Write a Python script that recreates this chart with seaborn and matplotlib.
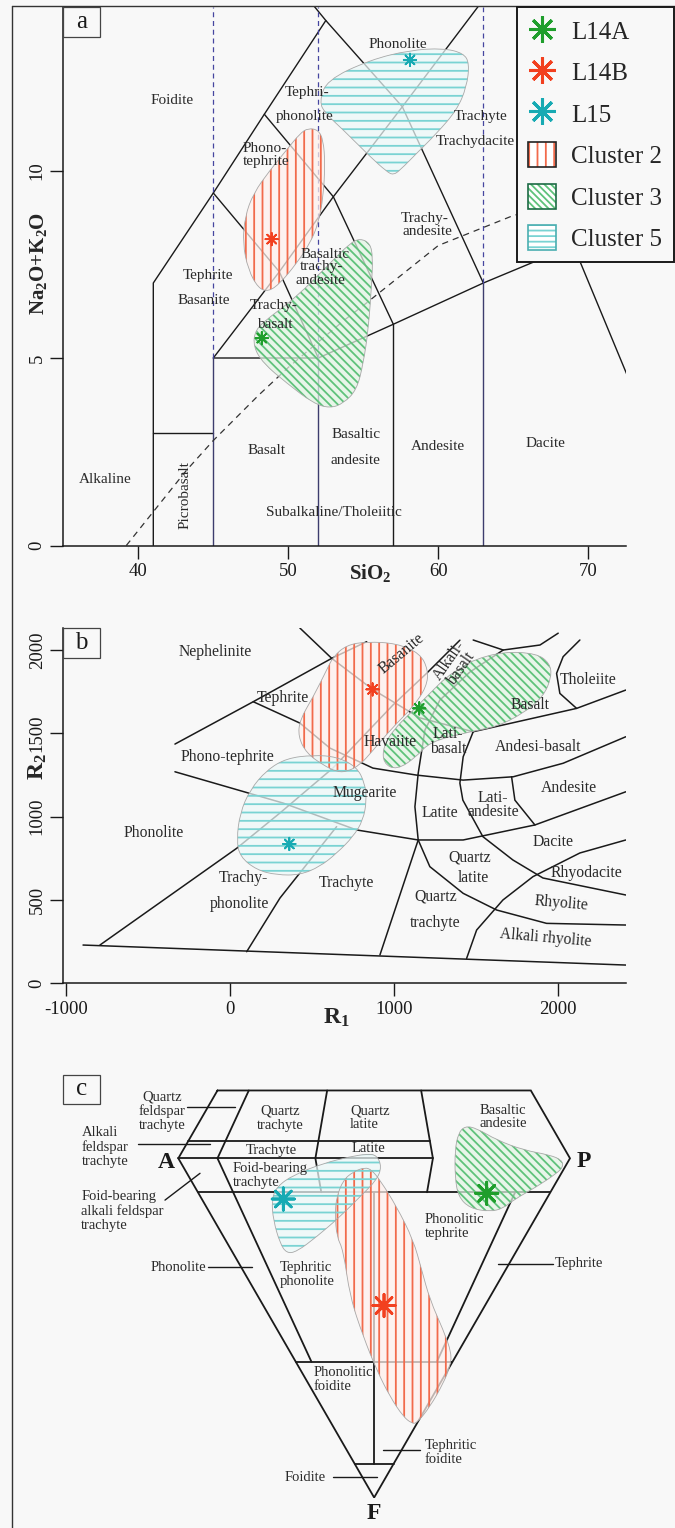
import numpy as np
import pandas as pd
import matplotlib
matplotlib.use("Agg")
import matplotlib.pyplot as plt
import matplotlib.patches as mpatches
from matplotlib.path import Path
from matplotlib.lines import Line2D
from matplotlib.legend_handler import HandlerTuple
import seaborn as sns

sns.set_theme(style="ticks")
plt.rcParams['font.family'] = ['Liberation Serif', 'DejaVu Serif']
plt.rcParams['mathtext.fontset'] = 'custom'
plt.rcParams['mathtext.rm'] = 'Liberation Serif'
plt.rcParams['mathtext.bf'] = 'Liberation Serif:bold'
plt.rcParams['mathtext.it'] = 'Liberation Serif:italic'
plt.rcParams['axes.unicode_minus'] = False
plt.rcParams['hatch.linewidth'] = 1.3

BG = '#f8f8f8'
INK = '#1a1a1a'

# ------------------------------------------------------------------ samples
samples = ["L14A", "L14B", "L15"]
sample_colors = {"L14A": "#1f9e2c", "L14B": "#f2401f", "L15": "#17aab3"}

# ------------------------------------------------------------------ panel a : TAS
tas_sio2 = [48.23, 48.89, 58.11]
tas_alkali = [5.53, 8.17, 12.95]

tas_cluster2 = [(51.33, 11.13), (52.0, 11.08), (52.33, 10.81), (52.45, 10.19), (52.33, 9.30),
                (52.0, 8.59), (51.45, 8.06), (50.56, 7.53), (49.45, 6.99), (48.67, 6.77),
                (48.0, 6.86), (47.33, 7.35), (46.96, 8.06), (47.11, 8.77), (47.67, 9.39),
                (48.78, 10.01), (49.89, 10.55), (50.78, 10.99)]
tas_cluster3 = [(54.78, 8.19), (55.45, 8.06), (55.63, 7.70), (55.56, 6.99), (55.33, 5.75),
                (55.0, 4.86), (54.56, 4.15), (53.67, 3.79), (52.78, 3.66), (51.67, 3.79),
                (49.89, 4.33), (48.33, 4.86), (47.67, 5.30), (47.78, 5.75), (48.78, 6.10),
                (50.56, 6.63), (52.78, 7.53), (54.11, 8.06)]
tas_cluster5 = [(52.07, 11.83), (52.56, 12.41), (55.45, 12.95), (58.11, 13.21), (60.33, 13.26),
                (61.67, 13.13), (62.07, 12.86), (61.89, 12.23), (61.23, 11.61), (59.89, 10.99),
                (58.56, 10.46), (57.45, 10.01), (57.0, 9.88), (56.56, 9.97), (55.45, 10.37),
                (53.67, 11.08), (52.45, 11.53)]

tas_boundaries = [
    [(41, 0), (41, 7), (45, 9.4), (48.4, 11.5), (52.5, 14), (48.4, 16)],
    [(41, 3), (45, 3)],
    [(57, 0), (57, 5.9)],
    [(45, 5), (52, 5), (57, 5.9), (63, 7), (69, 8), (77.3, 0)],
    [(45, 5), (49.4, 7.3), (53, 9.3), (57.6, 11.7), (63.5, 14.82)],
    [(52, 5), (49.4, 7.3), (45, 9.4)],
    [(57, 5.9), (53, 9.3), (48.4, 11.5)],
    [(63, 7), (57.6, 11.7), (52.5, 14)],
    [(69, 8), (69, 13)],
]
tas_guides_x = [45, 52, 63]          # SiO2 guides
tas_guides_base = [5, 5, 7]          # where the guide turns from solid to dashed
alk_divide = [(39.2, 0), (40, 0.4), (43.2, 2.0), (45, 2.8), (48, 4.0), (50, 4.75),
              (53.7, 6.0), (55, 6.4), (60, 8.0), (65, 8.8), (77.4, 10)]

tas_labels = [
    ("Foidite", 42.25, 11.88, 0), ("Tephri-", 51.25, 12.07, 0), ("phonolite", 51.11, 11.43, 0),
    ("Phono-", 48.45, 10.60, 0), ("tephrite", 48.5, 10.24, 0), ("Phonolite", 57.31, 13.37, 0),
    ("Trachyte", 62.84, 11.45, 0), ("Trachydacite", 62.44, 10.76, 0),
    ("Trachy-", 59.1, 8.73, 0), ("andesite", 59.25, 8.37, 0),
    ("Basaltic", 52.45, 7.77, 0), ("trachy-", 52.23, 7.44, 0), ("andesite", 52.11, 7.08, 0),
    ("Tephrite", 44.67, 7.21, 0), ("Basanite", 44.39, 6.53, 0),
    ("Trachy-", 49.0, 6.41, 0), ("basalt", 49.11, 5.88, 0), ("Basalt", 48.58, 2.52, 0),
    ("Basaltic", 54.51, 2.97, 0), ("andesite", 54.45, 2.28, 0), ("Andesite", 59.98, 2.63, 0),
    ("Dacite", 67.11, 2.71, 0), ("Alkaline", 37.78, 1.77, 0), ("Picrobasalt", 43.11, 1.35, 90),
    ("Subalkaline/Tholeiitic", 53.05, 0.87, 0),
]

# ------------------------------------------------------------------ panel b : R1-R2
r1_values = [1153, 869, 362]
r2_values = [1649, 1763, 836]

rr_cluster2 = [(629, 1959), (711, 2029), (833, 2049), (1016, 2039), (1158, 1979), (1208, 1879),
               (1198, 1779), (1117, 1659), (995, 1539), (873, 1399), (792, 1309), (711, 1269),
               (650, 1269), (568, 1309), (467, 1380), (416, 1479), (426, 1581), (508, 1719),
               (589, 1879)]
rr_cluster3 = [(1482, 1939), (1665, 1989), (1868, 1979), (1949, 1919), (1960, 1839), (1909, 1719),
               (1787, 1619), (1625, 1539), (1462, 1509), (1218, 1449), (1137, 1359), (1016, 1279),
               (934, 1320), (934, 1419), (995, 1519), (1097, 1619), (1218, 1739), (1320, 1839),
               (1421, 1899)]
rr_cluster5 = [(41, 860), (61, 1020), (122, 1160), (224, 1279), (345, 1350), (508, 1369),
               (650, 1359), (772, 1299), (822, 1200), (833, 1100), (812, 980), (751, 880),
               (650, 780), (548, 700), (426, 650), (285, 650), (163, 680), (61, 760)]

rr_boundaries = [
    [(-895, 230), (2412, 110)],
    [(-792, 230), (41, 810), (305, 1022), (627, 1291), (993, 1669), (1198, 1859), (1401, 2058)],
    [(-335, 1435), (142, 1689), (620, 1949), (833, 2049)],
    [(426, 2131), (620, 1949), (869, 1763), (1157, 1592), (1482, 1509)],
    [(142, 1689), (426, 1561), (609, 1411), (871, 1291), (1137, 1249), (1421, 1219),
     (1726, 1239), (2030, 1320), (2412, 1479)],
    [(-335, 1269), (325, 1081), (772, 920), (1147, 860), (1421, 860), (1858, 950), (2412, 1149)],
    [(1482, 1509), (2112, 1649), (2412, 1759)],
    [(1665, 1999), (1462, 1867), (1279, 1699), (1188, 1519), (1147, 1260), (1127, 1059), (1147, 860)],
    [(1147, 860), (914, 171)],
    [(1147, 860), (1218, 700), (1421, 540), (1625, 440), (1929, 360), (2412, 350)],
    [(2132, 2059), (2030, 1959), (1990, 1859), (2010, 1739), (2112, 1649)],
    [(1482, 2059), (1665, 1999), (1889, 2029), (2000, 2100)],
    [(1482, 1509), (1421, 1359), (1401, 1201), (1419, 1099), (1541, 880), (1724, 740),
     (1907, 632), (2412, 530)],
    [(1716, 1239), (1736, 1099), (1858, 950)],
    [(1442, 150), (1503, 320), (1663, 500), (1846, 640), (2132, 782), (2412, 860)],
    [(102, 190), (305, 512), (650, 940)],
]

rr_labels = [
    ("Nephelinite", -91, 1987, 0), ("Tephrite", 323, 1711, 0), ("Phono-tephrite", -18, 1358, 0),
    ("Phonolite", -467, 903, 0), ("Trachy-", 81, 630, 0), ("phonolite", 61, 476, 0),
    ("Trachyte", 711, 600, 0), ("Mugearite", 822, 1140, 0), ("Havaiite", 975, 1449, 0),
    ("Basanite", 1046, 1979, 40), ("Alkali-\nbasalt", 1371, 1909, 55), ("Basalt", 1828, 1669, 0),
    ("Tholeiite", 2183, 1819, 0), ("Lati-\nbasalt", 1330, 1450, 0), ("Andesi-basalt", 1878, 1419, 0),
    ("Andesite", 2067, 1173, 0), ("Lati-\nandesite", 1602, 1070, 0), ("Latite", 1279, 1020, 0),
    ("Dacite", 1966, 850, 0), ("Quartz", 1462, 754, 0), ("latite", 1486, 630, 0),
    ("Rhyodacite", 2173, 660, 0), ("Rhyolite", 2021, 480, -5), ("Quartz", 1255, 520, 0),
    ("trachyte", 1249, 364, 0), ("Alkali rhyolite", 1925, 270, -5),
]

# ------------------------------------------------------------------ panel c : QAPF (plane coords, A-P = 100)
qapf_u = [78.73, 52.52, 26.81]
qapf_v = [-8.94, -37.58, -10.39]

qapf_cluster2 = [(47.66, -2.30), (49.37, -2.99), (51.49, -5.54), (55.76, -12.36), (60.0, -20.86),
                 (62.14, -28.52), (64.26, -36.18), (67.65, -43.83), (69.80, -49.78), (69.36, -53.20),
                 (67.65, -57.44), (64.26, -63.42), (60.86, -67.65), (59.59, -67.65), (57.44, -65.97),
                 (54.05, -60.86), (50.65, -54.05), (47.23, -45.55), (43.83, -35.33), (42.12, -23.41),
                 (40.44, -20.02), (40.01, -14.04), (40.44, -9.80), (42.12, -5.54), (44.68, -3.42)]
qapf_cluster3 = [(73.19, 8.25), (76.18, 7.66), (81.29, 4.67), (88.08, 2.12), (94.89, 0.84),
                 (97.88, -0.43), (98.29, -2.14), (96.60, -3.83), (91.50, -7.25), (85.52, -10.65),
                 (82.97, -12.76), (79.58, -13.63), (74.47, -12.76), (71.48, -9.80), (70.64, -4.70),
                 (70.64, 2.12), (71.48, 6.38)]
qapf_cluster5 = [(50.65, 0.84), (51.93, -2.14), (50.65, -5.54), (46.39, -9.80), (41.28, -14.91),
                 (35.33, -20.02), (30.23, -23.84), (27.67, -24.25), (25.96, -21.70), (24.25, -15.75),
                 (23.84, -10.65), (25.12, -7.25), (29.36, -4.26), (37.02, -1.28), (43.83, 0.41),
                 (48.10, 1.10)]

q_top = 0.20                    # upper triangle truncated at 20 % Q
q_low = 0.05
f_levels = [0.10, 0.60, 0.90]
p_split_upper = [0.10, 0.35, 0.65]

qapf_labels = [
    ("Quartz\nfeldspar\ntrachyte", -4.16, 12.05, 'center'), ("Alkali\nfeldspar\ntrachyte", -24.66, 2.86, 'left'),
    ("Foid-bearing\nalkali feldspar\ntrachyte", -24.8, -13.4, 'left'), ("Phonolite", 7.25, -27.83, 'right'),
    ("Quartz\ntrachyte", 25.96, 10.24, 'center'), ("Trachyte", 23.85, 1.94, 'center'),
    ("Foid-bearing\ntrachyte", 13.96, -4.44, 'left'), ("Quartz\nlatite", 43.83, 10.29, 'left'),
    ("Latite", 48.5, 2.55, 'center'), ("Basaltic\nandesite", 82.97, 10.54, 'center'),
    ("Phonolitic\ntephrite", 62.98, -17.36, 'left'), ("Tephrite", 96.17, -26.8, 'left'),
    ("Tephritic\nphonolite", 25.96, -29.67, 'left'), ("Phonolitic\nfoidite", 34.47, -56.4, 'left'),
    ("Tephritic\nfoidite", 62.98, -75.2, 'left'), ("Foidite", 37.7, -81.44, 'right'),
]
qapf_leaders = [
    [(2.14, 13.1), (14.48, 13.1)], [(-10.2, 3.57), (8.09, 3.57)], [(-3.4, -10.67), (5.54, -3.83)],
    [(7.66, -27.83), (18.74, -27.83)], [(81.7, -27.06), (95.74, -27.06)],
    [(52.34, -74.47), (61.71, -74.47)], [(39.42, -81.44), (50.65, -81.44)],
]
vertex_labels = [("A", -3.19, -0.95), ("P", 103.4, -0.87), ("F", 49.96, -90.6)]

# ------------------------------------------------------------------ styles
cluster_styles = {
    "Cluster 2": dict(fill='#fff1ec', hatch_color='#f26a4b', hatch='||', legend_hatch='||',
                      legend_edge='#222222'),
    "Cluster 3": dict(fill='#e2f4e4', hatch_color='#5fc27b', hatch='\\' * 4, legend_hatch='\\' * 5,
                      legend_edge='#1d6b45'),
    "Cluster 5": dict(fill='#ecf9f9', hatch_color='#79d3d3', hatch='--', legend_hatch='---',
                      legend_edge='#4aaeb0'),
}
STAR = (8, 2, 0)


def smooth_path(pts):
    p = np.asarray(pts, float)
    mids = (p + np.roll(p, -1, axis=0)) / 2
    verts = [mids[-1]]
    codes = [Path.MOVETO]
    for i in range(len(p)):
        verts += [p[i], mids[i]]
        codes += [Path.CURVE3, Path.CURVE3]
    verts.append(mids[-1])
    codes.append(Path.CLOSEPOLY)
    return Path(verts, codes)


def draw_field(ax, pts, name, z=3):
    st = cluster_styles[name]
    path = smooth_path(pts)
    ax.add_patch(mpatches.PathPatch(path, facecolor=st['fill'], edgecolor='none', alpha=0.72, zorder=z))
    ax.add_patch(mpatches.PathPatch(path, facecolor='none', edgecolor=st['hatch_color'],
                                    hatch=st['hatch'], linewidth=0, zorder=z + 0.1))
    ax.add_patch(mpatches.PathPatch(path, facecolor='none', edgecolor='#a8a8a8',
                                    linewidth=0.6, zorder=z + 0.2))


def draw_lines(ax, lines, **kw):
    for ln in lines:
        xy = np.asarray(ln, float)
        ax.plot(xy[:, 0], xy[:, 1], **kw)


def draw_samples(ax, xs, ys, size, lw):
    df = pd.DataFrame({"x": xs, "y": ys, "sample": samples})
    sns.scatterplot(data=df, x="x", y="y", hue="sample", palette=sample_colors, marker=STAR,
                    s=size, linewidth=lw, legend=False, ax=ax, zorder=8)
    ax.set_xlabel("")
    ax.set_ylabel("")


def panel_tag(ax, letter, h):
    ax.add_patch(mpatches.Rectangle((0, 1 - h), 0.0657, h, transform=ax.transAxes,
                                    facecolor='none', edgecolor='#444444', linewidth=0.9,
                                    clip_on=False, zorder=9))
    ax.text(0.0328, 1 - h / 2, letter, transform=ax.transAxes, ha='center', va='center',
            fontsize=18, color=INK, zorder=10)


def style_axes(ax):
    for s in ['top', 'right']:
        ax.spines[s].set_visible(False)
    for s in ['left', 'bottom']:
        ax.spines[s].set_linewidth(1.1)
        ax.spines[s].set_color(INK)
    ax.tick_params(direction='out', length=9.5, width=1.0, color=INK, labelsize=13.5,
                   labelcolor=INK, pad=3)
    ax.tick_params(axis='y', labelrotation=90)
    for lab in ax.get_yticklabels():
        lab.set_va('center')
    ax.set_facecolor('none')
    ax.grid(False)


W, H = 675, 1528
fig = plt.figure(figsize=(6.75, 15.28), dpi=100, facecolor=BG)


def axes_px(left, top, right, bottom):
    return fig.add_axes([left / W, 1 - bottom / H, (right - left) / W, (bottom - top) / H])


# ================================================================== panel a
ax = axes_px(63, 7, 626, 545.5)
ax.set_xlim(34.98, 72.51)
ax.set_ylim(0, 14.36)
ax.set_xticks([40, 50, 60, 70])
ax.set_yticks([0, 5, 10])
draw_lines(ax, tas_boundaries, color=INK, lw=1.0, zorder=2)
for gx, gb in zip(tas_guides_x, tas_guides_base):
    ax.plot([gx, gx], [0, gb], color='#3d3d6e', lw=1.0, zorder=2)
    ax.plot([gx, gx], [gb, 14.36], color='#4646a0', lw=0.9, ls=(0, (4, 3)), zorder=2)
ad = np.asarray(alk_divide)
ax.plot(ad[:, 0], ad[:, 1], color='#333333', lw=0.9, ls=(0, (5, 4)), zorder=2)
for name, pts in [("Cluster 2", tas_cluster2), ("Cluster 3", tas_cluster3), ("Cluster 5", tas_cluster5)]:
    draw_field(ax, pts, name)
for txt, x, y, rot in tas_labels:
    ax.text(x, y, txt, ha='center', va='center', fontsize=11, rotation=rot, color='#2a2a2a', zorder=7)
draw_samples(ax, tas_sio2, tas_alkali, 80, 1.3)
style_axes(ax)
ax.text(0.5453, -0.051, r'$\mathbf{SiO_2}$', transform=ax.transAxes, ha='center', va='center', fontsize=15)
ax.text(-0.0444, 0.5246, r'$\mathbf{Na_2O{+}K_2O}$', transform=ax.transAxes, ha='center', va='center',
        rotation=90, fontsize=15)
panel_tag(ax, 'a', 0.0557)

# ================================================================== panel b
ax = axes_px(63, 628, 626, 983.4)
ax.set_xlim(-1017, 2413)
ax.set_ylim(0, 2131)
ax.set_xticks([-1000, 0, 1000, 2000])
ax.set_yticks([0, 500, 1000, 1500, 2000])
draw_lines(ax, rr_boundaries, color=INK, lw=1.1, zorder=2)
for name, pts in [("Cluster 2", rr_cluster2), ("Cluster 3", rr_cluster3), ("Cluster 5", rr_cluster5)]:
    draw_field(ax, pts, name)
for txt, x, y, rot in rr_labels:
    ax.text(x, y, txt, ha='center', va='center', fontsize=11.3, rotation=rot, color='#2a2a2a',
            linespacing=0.85, zorder=7)
draw_samples(ax, r1_values, r2_values, 80, 1.3)
style_axes(ax)
ax.text(0.4849, -0.097, r'$\mathbf{R_1}$', transform=ax.transAxes, ha='center', va='center', fontsize=17)
ax.text(-0.0444, 0.609, r'$\mathbf{R_2}$', transform=ax.transAxes, ha='center', va='center',
        rotation=90, fontsize=17)
panel_tag(ax, 'b', 0.0844)

# ================================================================== panel c
ax = axes_px(63, 1060, 626, 1528)
ax.set_xlim(-29.44, 114.3)
ax.set_ylim(-94.38, 25.1)
ax.axis('off')

A = np.array([0.0, 0.0])
P = np.array([100.0, 0.0])
Q = np.array([50.0, 50 * np.sqrt(3)])
F = np.array([50.0, -50 * np.sqrt(3)])


def upper(q, r):
    return q * Q + (1 - q) * ((1 - r) * A + r * P)


def lower(f, r):
    return f * F + (1 - f) * ((1 - r) * A + r * P)


qapf_lines = [
    [upper(q_top, 0), A, F, P, upper(q_top, 1), upper(q_top, 0)],
    [upper(q_low, 0), upper(q_low, p_split_upper[2])],
    [A, lower(0, p_split_upper[2])],
    [upper(q_top, 0.10), lower(0, 0.10), lower(f_levels[1], 0.10)],
    [upper(q_top, 0.35), lower(0, 0.35), lower(f_levels[0], 0.35)],
    [upper(q_top, 0.65), lower(0, 0.65), lower(f_levels[0], 0.65)],
    [lower(f_levels[0], 0.5), lower(f_levels[2], 0.5)],
    [lower(f_levels[0], 0.9), lower(f_levels[1], 0.9)],
] + [[lower(f, 0), lower(f, 1)] for f in f_levels]
draw_lines(ax, qapf_lines, color=INK, lw=1.3, zorder=2, solid_joinstyle='miter')
draw_lines(ax, qapf_leaders, color=INK, lw=1.0, zorder=2)
for name, pts in [("Cluster 2", qapf_cluster2), ("Cluster 3", qapf_cluster3), ("Cluster 5", qapf_cluster5)]:
    draw_field(ax, pts, name)
for txt, x, y, ha in qapf_labels:
    ax.text(x, y, txt, ha=ha, va='center', fontsize=10.5, color='#2a2a2a', linespacing=1.08, zorder=7)
for txt, x, y in vertex_labels:
    ax.text(x, y, txt, ha='center', va='center', fontsize=17, fontweight='bold', color=INK, zorder=7)
draw_samples(ax, qapf_u, qapf_v, 260, 2.0)
ax.add_patch(mpatches.Rectangle((0, 0.906), 0.0657, 0.062, transform=ax.transAxes,
                                facecolor='none', edgecolor='#444444', linewidth=0.9, clip_on=False))
ax.text(0.0328, 0.937, 'c', transform=ax.transAxes, ha='center', va='center', fontsize=18, color=INK)

# ================================================================== legend
handles = [Line2D([0], [0], marker=STAR, linestyle='', color=sample_colors[s], markersize=19,
                  markeredgewidth=2.2) for s in samples]
for name in ["Cluster 2", "Cluster 3", "Cluster 5"]:
    st = cluster_styles[name]
    handles.append((mpatches.Patch(facecolor='white', edgecolor=st['hatch_color'], hatch=st['legend_hatch'],
                                   linewidth=0),
                    mpatches.Patch(facecolor='none', edgecolor=st['legend_edge'], linewidth=1.2)))
labels = samples + ["Cluster 2", "Cluster 3", "Cluster 5"]
leg = fig.legend(handles, labels, handler_map={tuple: HandlerTuple(ndivide=1)}, loc='upper left',
                 bbox_to_anchor=(517 / W, 1 - 7 / H), bbox_transform=fig.transFigure, borderaxespad=0,
                 frameon=True, fancybox=False, edgecolor=INK, facecolor=BG, framealpha=1, fontsize=18,
                 handlelength=1.12, handleheight=1.15, handletextpad=0.6, labelspacing=0.62,
                 borderpad=0.45)
leg.get_frame().set_linewidth(1.4)

# outer frame
fig.add_artist(Line2D([12 / W, 12 / W], [0, 1 - 6 / H], color='#333333', lw=1.0))
fig.add_artist(Line2D([12 / W, 1], [1 - 6 / H, 1 - 6 / H], color='#333333', lw=1.0))

fig.savefig("out.png", dpi=100, facecolor=BG)
